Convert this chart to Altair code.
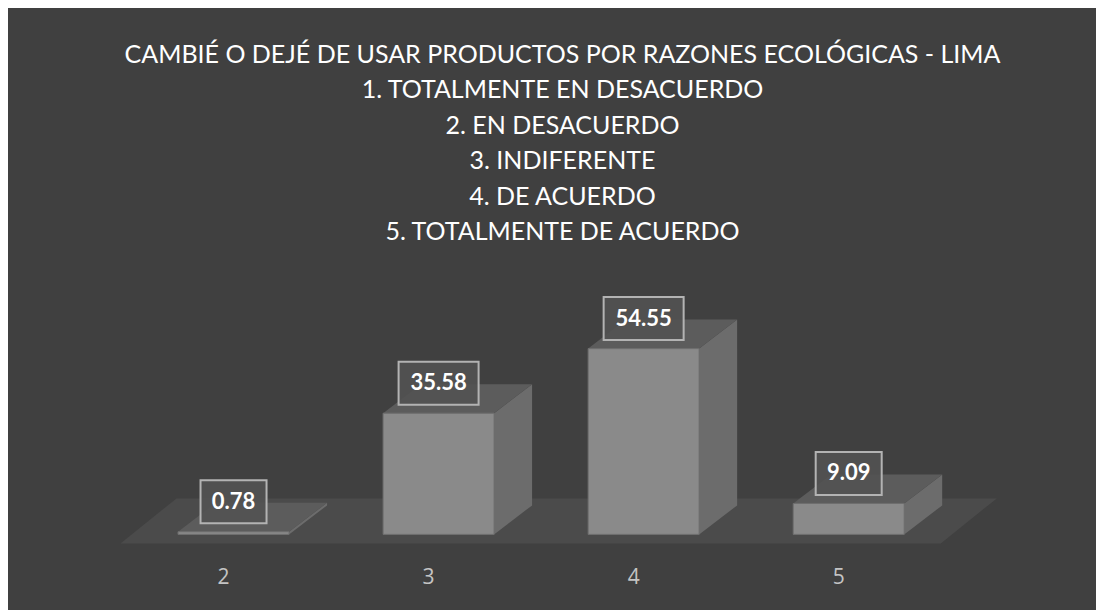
import altair as alt
import pandas as pd

# ---------------- data ----------------
categories = ["2", "3", "4", "5"]
values = [0.78, 35.58, 54.55, 9.09]
value_labels = ["0.78", "35.58", "54.55", "9.09"]
title_lines = [
    "CAMBIÉ O DEJÉ DE USAR PRODUCTOS POR RAZONES ECOLÓGICAS - LIMA",
    "1. TOTALMENTE EN DESACUERDO",
    "2. EN DESACUERDO",
    "3. INDIFERENTE",
    "4. DE ACUERDO",
    "5. TOTALMENTE DE ACUERDO",
]

# ---------------- style constants ----------------
FONT = "Lato"
BG = "#404040"
FRONT = "#8a8a8a"
SIDE = "#6c6c6c"
TOP = "#5c5c5c"
FLOOR = "#4b4b4b"

W, H = 933, 252
X_DOMAIN = [-0.6, 3.95]
Y_DOMAIN = [-4, 70]
PX_X = W / (X_DOMAIN[1] - X_DOMAIN[0])
PX_Y = H / (Y_DOMAIN[1] - Y_DOMAIN[0])
SHIFT = 10.5 / PX_X        # bar front centre shift relative to label
HALF = 55.5 / PX_X         # half bar width
DX = 38 / PX_X             # 3D depth (horizontal)
DY = 29 / PX_Y             # 3D depth (vertical)
F_FRONT = -9 / PX_Y
F_BACK = 36 / PX_Y
F_DX = 56 / PX_X
LABEL_RAISE = 30 / PX_Y
BOX_HALF_H = 21.5 / PX_Y

# ---------------- tables built from the arrays ----------------
front_rows, side_rows, top_rows, lab_rows = [], [], [], []
for i, (cat, v, lab) in enumerate(zip(categories, values, value_labels)):
    c = i + SHIFT
    front_rows.append(dict(cat=cat, x=c - HALF, x2=c + HALF, y=0, y2=v))
    side_rows += [
        dict(cat=cat, x=c + HALF, y=0, y2=v),
        dict(cat=cat, x=c + HALF + DX, y=DY, y2=v + DY),
    ]
    top_rows += [
        dict(cat=cat, y=v, x=c - HALF, x2=c + HALF),
        dict(cat=cat, y=v + DY, x=c - HALF + DX, x2=c + HALF + DX),
    ]
    hw = (14 * len(lab) + 10) / 2 / PX_X
    yc = v + LABEL_RAISE
    lab_rows.append(dict(cat=cat, label=lab, xc=c, yc=yc,
                         bx=c - hw, bx2=c + hw,
                         by=yc - BOX_HALF_H, by2=yc + BOX_HALF_H))

n = len(categories)
floor_rows = [
    dict(y=F_FRONT, x=-0.5, x2=n - 0.5),
    dict(y=F_BACK, x=-0.5 + F_DX, x2=n - 0.5 + F_DX),
]

front_df = pd.DataFrame(front_rows)
side_df = pd.DataFrame(side_rows)
top_df = pd.DataFrame(top_rows)
lab_df = pd.DataFrame(lab_rows)
floor_df = pd.DataFrame(floor_rows)

xscale = alt.Scale(domain=X_DOMAIN, nice=False, zero=False)
yscale = alt.Scale(domain=Y_DOMAIN, nice=False, zero=False)
label_expr = "[" + ",".join(f"'{c}'" for c in categories) + "][datum.value]"
xaxis = alt.Axis(values=list(range(n)), labelExpr=label_expr, title=None,
                 domain=False, ticks=False, grid=False, labelFont="Open Sans",
                 labelFontSize=21, labelColor="#c4c4c4", labelPadding=18)


def X(field):
    return alt.X(field, type="quantitative", scale=xscale, axis=xaxis)


def Y(field):
    return alt.Y(field, type="quantitative", scale=yscale, axis=None, stack=None)


floor = alt.Chart(floor_df).mark_area(orient="horizontal", color=FLOOR).encode(
    y=Y("y"), x=X("x"), x2="x2"
)
side = alt.Chart(side_df).mark_area(color=SIDE).encode(
    x=X("x"), y=Y("y"), y2="y2", detail="cat:N"
)
top = alt.Chart(top_df).mark_area(orient="horizontal", color=TOP).encode(
    y=Y("y"), x=X("x"), x2="x2", detail="cat:N"
)
front = alt.Chart(front_df).mark_rect(color=FRONT, stroke="#6f6f6f", strokeWidth=1).encode(
    x=X("x"), x2="x2", y=Y("y"), y2="y2"
)
boxes = alt.Chart(lab_df).mark_rect(fill="#525252", fillOpacity=0.9,
                                    stroke="#b3b3b3", strokeWidth=2).encode(
    x=X("bx"), x2="bx2", y=Y("by"), y2="by2"
)
texts = alt.Chart(lab_df).mark_text(font=FONT, fontSize=22, fontWeight="bold",
                                    color="white", baseline="middle").encode(
    x=X("xc"), y=Y("yc"), text="label:N"
)

chart = alt.layer(floor, side, top, front, boxes, texts).properties(
    width=W,
    height=H,
    background=BG,
    padding={"left": 92, "top": 288, "right": 63, "bottom": 62},
    autosize=alt.AutoSizeParams(type="none"),
    title=alt.TitleParams(
        text=title_lines, font=FONT, fontSize=25, fontWeight="normal",
        color="white", lineHeight=35.4, anchor="middle", offset=51, dx=-4,
    ),
).configure_view(stroke=None)

chart.save("out.html", embed_options={"renderer": "svg", "actions": False})
